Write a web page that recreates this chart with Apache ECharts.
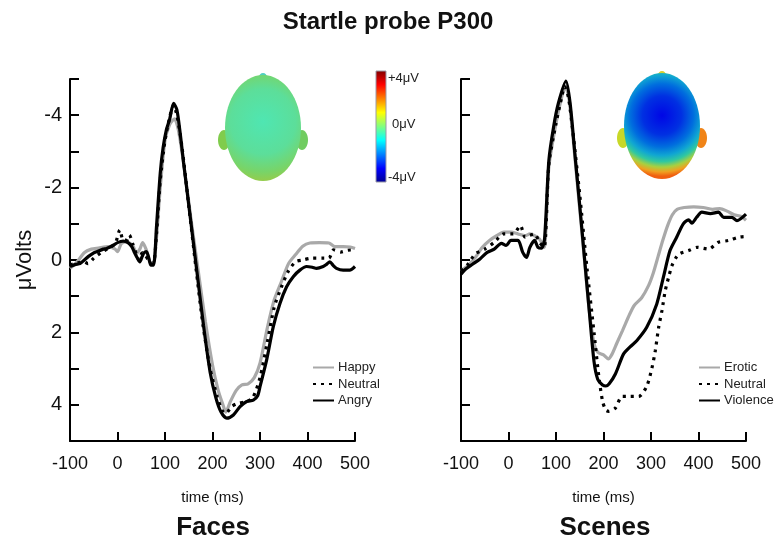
<!DOCTYPE html>
<html>
<head>
<meta charset="utf-8">
<script src="https://cdn.jsdelivr.net/npm/echarts@6/dist/echarts.min.js"></script>
<style>
  html, body { margin: 0; padding: 0; background: #fff; }
  #chart { width: 776px; height: 546px; }
</style>
</head>
<body>
<div id="chart"></div>
<script>
// time (ms), amplitude (µV)
const facesHappy = [[-100,0.23],[-85,0.05],[-70,-0.2],[-55,-0.3],[-40,-0.33],[-20,-0.37],[-5,-0.3],[0,-0.23],[8,-0.45],[20,-0.5],[32,-0.4],[40,-0.18],[47,-0.3],[53,-0.48],[60,-0.3],[68,0.05],[75,0.1],[82,-0.6],[90,-2.0],[100,-3.3],[110,-3.75],[120,-3.9],[128,-3.6],[140,-2.6],[155,-1.1],[170,0.3],[185,1.7],[200,2.9],[212,3.6],[222,4.0],[228,4.2],[238,3.9],[250,3.6],[262,3.45],[275,3.42],[288,3.25],[300,2.85],[315,1.9],[330,1.1],[345,0.6],[360,0.1],[375,-0.15],[390,-0.38],[405,-0.47],[425,-0.48],[445,-0.47],[458,-0.37],[475,-0.37],[490,-0.36],[500,-0.32]]
const facesNeutral = [[-100,0.14],[-85,0.08],[-70,0.05],[-62,0.1],[-50,-0.05],[-35,-0.2],[-20,-0.32],[-5,-0.45],[5,-0.83],[12,-0.55],[20,-0.55],[25,-0.69],[32,-0.45],[40,-0.15],[45,0.0],[52,-0.2],[58,-0.15],[65,0.0],[75,0.1],[82,-0.7],[90,-2.2],[100,-3.3],[110,-3.95],[118,-4.28],[125,-4.0],[135,-3.2],[150,-1.5],[165,0.2],[180,1.8],[195,3.0],[210,3.78],[220,4.15],[228,4.24],[240,4.05],[255,3.95],[270,3.92],[285,3.8],[300,3.25],[315,2.3],[330,1.3],[345,0.75],[360,0.3],[375,0.05],[390,0.0],[410,-0.05],[430,-0.05],[445,-0.05],[455,-0.28],[470,-0.22],[485,-0.27],[500,-0.28]]
const facesAngry = [[-100,0.18],[-88,0.12],[-79,0.1],[-70,0.0],[-61,-0.1],[-50,-0.2],[-44,-0.23],[-30,-0.3],[-23,-0.32],[-10,-0.4],[0,-0.48],[12,-0.52],[22,-0.48],[30,-0.37],[36,-0.2],[42,-0.05],[47,0.05],[52,-0.1],[56,-0.2],[61,-0.23],[66,-0.05],[70,0.14],[76,0.14],[82,-0.9],[90,-2.4],[96,-3.1],[103,-3.6],[110,-3.9],[118,-4.33],[125,-4.15],[132,-3.5],[139,-2.7],[153,-1.2],[167,0.3],[181,1.8],[195,3.1],[207,3.8],[218,4.2],[230,4.37],[244,4.28],[258,4.05],[272,3.91],[286,3.87],[295,3.75],[300,3.5],[314,2.76],[328,1.84],[342,1.2],[356,0.74],[370,0.46],[384,0.28],[398,0.18],[410,0.2],[419,0.23],[433,0.18],[440,0.12],[447,0.05],[454,0.15],[461,0.23],[475,0.28],[489,0.28],[500,0.18]]

const scenesErotic = [[-100,0.3],[-85,0.15],[-70,-0.07],[-55,-0.35],[-40,-0.54],[-25,-0.67],[-10,-0.77],[5,-0.77],[20,-0.72],[35,-0.67],[45,-0.72],[55,-0.67],[65,-0.58],[75,-0.35],[85,-2.57],[100,-3.77],[112,-4.5],[120,-4.79],[128,-4.4],[140,-2.8],[150,-1.4],[160,0.0],[170,1.4],[180,2.3],[188,2.55],[200,2.62],[210,2.73],[218,2.6],[228,2.3],[240,1.95],[255,1.5],[265,1.25],[280,1.05],[295,0.7],[305,0.35],[315,-0.1],[325,-0.55],[335,-0.95],[345,-1.25],[355,-1.4],[370,-1.45],[390,-1.47],[410,-1.45],[430,-1.4],[445,-1.42],[460,-1.35],[475,-1.25],[490,-1.2],[500,-1.1]]
const scenesNeutral = [[-100,0.3],[-85,0.11],[-70,-0.17],[-50,-0.3],[-30,-0.49],[-10,-0.72],[10,-0.72],[25,-0.95],[35,-0.63],[45,-0.68],[55,-0.72],[65,-0.49],[75,-0.35],[85,-2.65],[100,-3.77],[112,-4.5],[118,-4.79],[126,-4.5],[135,-3.6],[150,-1.8],[165,0.2],[180,2.0],[190,3.2],[198,3.9],[205,4.15],[211,4.18],[225,4.09],[239,3.77],[256,3.77],[274,3.77],[291,3.49],[302,2.98],[309,2.51],[316,1.87],[323,1.4],[330,0.85],[337,0.48],[344,0.16],[353,-0.07],[361,-0.18],[379,-0.26],[397,-0.35],[421,-0.3],[442,-0.49],[463,-0.54],[484,-0.63],[500,-0.65]]
const scenesViolence = [[-100,0.39],[-90,0.25],[-75,0.11],[-60,-0.03],[-45,-0.21],[-30,-0.3],[-15,-0.46],[-5,-0.4],[5,-0.54],[20,-0.54],[30,-0.21],[38,-0.07],[45,-0.35],[55,-0.54],[62,-0.35],[70,-0.33],[76,-0.6],[85,-2.75],[95,-3.68],[105,-4.33],[121,-4.94],[130,-4.3],[140,-2.9],[150,-1.5],[160,-0.05],[170,1.4],[180,2.8],[188,3.3],[198,3.45],[205,3.48],[212,3.42],[225,3.15],[242,2.6],[256,2.4],[270,2.23],[291,1.86],[312,1.22],[326,0.48],[340,-0.26],[354,-0.63],[368,-1.0],[379,-1.11],[386,-1.02],[396,-1.18],[407,-1.32],[425,-1.28],[442,-1.32],[453,-1.18],[470,-1.18],[481,-1.09],[500,-1.27]]

const timeTicks = [-100, 0, 100, 200, 300, 400, 500]
const voltTicks = [-4, -2, 0, 2, 4]
const facesNames = ['Happy', 'Neutral', 'Angry']
const scenesNames = ['Erotic', 'Neutral', 'Violence']
const scaleLabels = ['+4μV', '0μV', '-4μV']

const FONT = '"Liberation Sans", Arial, Helvetica, sans-serif'
const GRAY = '#a9a9a9'

let chart = echarts.init(document.getElementById('chart'), null, { renderer: 'canvas' })

function xAxisFor (gridIndex) {
  return {
    type: 'value',
    gridIndex: gridIndex,
    min: -100,
    max: 500,
    interval: 100,
    name: 'time (ms)',
    nameLocation: 'middle',
    nameGap: 49,
    nameTextStyle: { fontSize: 15, color: '#111', fontFamily: FONT },
    axisLine: { onZero: false, lineStyle: { color: '#000', width: 2 } },
    axisTick: { inside: true, length: 9, lineStyle: { color: '#000', width: 2 } },
    axisLabel: {
      fontSize: 18,
      color: '#111',
      fontFamily: FONT,
      margin: 14,
      formatter: v => timeTicks.indexOf(v) >= 0 ? String(v) : ''
    },
    splitLine: { show: false }
  }
}

function yAxisFor (gridIndex, showLabels) {
  return {
    type: 'value',
    gridIndex: gridIndex,
    inverse: true,
    min: -5,
    max: 5,
    interval: 1,
    name: showLabels ? 'μVolts' : '',
    nameLocation: 'middle',
    nameGap: 34,
    nameTextStyle: { fontSize: 22, color: '#111', fontFamily: FONT },
    axisLine: { onZero: false, lineStyle: { color: '#000', width: 2 } },
    axisTick: { inside: true, length: 9, lineStyle: { color: '#000', width: 2 } },
    axisLabel: {
      show: showLabels,
      fontSize: 20,
      color: '#111',
      fontFamily: FONT,
      margin: 8,
      formatter: v => voltTicks.indexOf(v) >= 0 ? String(v) : ''
    },
    splitLine: { show: false }
  }
}

function lineSeries (name, data, idx, color, dotted) {
  return {
    type: 'line',
    name: name,
    xAxisIndex: idx,
    yAxisIndex: idx,
    data: data,
    symbol: 'none',
    smooth: 0.25,
    lineStyle: { color: color, width: 3.2, type: dotted ? [3, 5] : 'solid' },
    itemStyle: { color: color },
    z: dotted ? 3 : (color === GRAY ? 2 : 4)
  }
}

function head (cx, cy, rx, ry, gy, gr, stops, earL, earR, nose) {
  return {
    type: 'group',
    children: [
      { type: 'ellipse', shape: { cx: cx, cy: cy - ry + 2, rx: 4, ry: 4 }, style: { fill: nose } },
      { type: 'ellipse', shape: { cx: cx - rx - 1, cy: cy + 12, rx: 6, ry: 10 }, style: { fill: earL } },
      { type: 'ellipse', shape: { cx: cx + rx + 1, cy: cy + 12, rx: 6, ry: 10 }, style: { fill: earR } },
      {
        type: 'ellipse',
        shape: { cx: cx, cy: cy, rx: rx, ry: ry },
        style: {
          fill: new echarts.graphic.RadialGradient(0.5, gy, gr, stops)
        }
      }
    ]
  }
}

let graphics = [
  { type: 'text', left: 'center', top: 10, style: { text: 'Startle probe P300', fontSize: 24, fontWeight: 'bold', fontFamily: FONT, fill: '#111' } },
  { type: 'text', x: 213, y: 528, style: { text: 'Faces', fontSize: 26, fontWeight: 'bold', fontFamily: FONT, fill: '#111', align: 'center', verticalAlign: 'middle' } },
  { type: 'text', x: 605, y: 528, style: { text: 'Scenes', fontSize: 26, fontWeight: 'bold', fontFamily: FONT, fill: '#111', align: 'center', verticalAlign: 'middle' } },
  head(263, 128, 38, 53, 0.44, 0.78, [
    { offset: 0, color: '#4fe6b2' },
    { offset: 0.55, color: '#5cde9a' },
    { offset: 0.85, color: '#78d468' },
    { offset: 1, color: '#94cc4c' }
  ], '#80cc4c', '#70cc60', '#50d0c0'),
  head(662, 126, 38, 53, 0.4, 0.8, [
    { offset: 0, color: '#0006e6' },
    { offset: 0.32, color: '#0030e2' },
    { offset: 0.52, color: '#006ede' },
    { offset: 0.66, color: '#10a6d2' },
    { offset: 0.76, color: '#30c8a0' },
    { offset: 0.85, color: '#a8d040' },
    { offset: 0.93, color: '#f0a020' },
    { offset: 1, color: '#f06010' }
  ], '#c8d828', '#f08418', '#d8d030'),
  {
    type: 'rect',
    shape: { x: 376, y: 71, width: 10, height: 111 },
    style: {
      fill: new echarts.graphic.LinearGradient(0, 0, 0, 1, [
        { offset: 0, color: '#800000' },
        { offset: 0.125, color: '#ff0000' },
        { offset: 0.375, color: '#ffff00' },
        { offset: 0.5, color: '#80ff80' },
        { offset: 0.625, color: '#00ffff' },
        { offset: 0.875, color: '#0000ff' },
        { offset: 1, color: '#00008f' }
      ]),
      stroke: '#9a9aa8',
      lineWidth: 1
    }
  }
]
const scaleY = [78, 124, 177]
const scaleX = [388, 392, 388]
scaleLabels.forEach((t, i) => {
  graphics.push({ type: 'text', x: scaleX[i], y: scaleY[i], style: { text: t, fontSize: 13, fontFamily: FONT, fill: '#222', verticalAlign: 'middle' } })
})

let legendBase = {
  orient: 'vertical',
  itemWidth: 21,
  itemHeight: 12,
  itemGap: 3.5,
  top: 356,
  itemStyle: { color: 'rgba(0,0,0,0)', borderColor: 'rgba(0,0,0,0)', borderWidth: 0, opacity: 0 },
  textStyle: { fontSize: 13, color: '#222', fontFamily: FONT, padding: [0, 0, 0, -1] },
  selectedMode: false
}

let option = {
  backgroundColor: '#fff',
  animation: false,
  grid: [
    { left: 70, top: 79, width: 285, height: 362, outerBoundsMode: 'none' },
    { left: 461, top: 79, width: 285, height: 362, outerBoundsMode: 'none' }
  ],
  xAxis: [xAxisFor(0), xAxisFor(1)],
  yAxis: [yAxisFor(0, true), yAxisFor(1, false)],
  legend: [
    Object.assign({}, legendBase, { left: 307, data: facesNames }),
    Object.assign({}, legendBase, { left: 693, data: scenesNames })
  ],
  graphic: graphics,
  series: [
    lineSeries('Happy', facesHappy, 0, GRAY, false),
    lineSeries('Neutral', facesNeutral, 0, '#000', true),
    lineSeries('Angry', facesAngry, 0, '#000', false),
    lineSeries('Erotic', scenesErotic, 1, GRAY, false),
    lineSeries('Neutral', scenesNeutral, 1, '#000', true),
    lineSeries('Violence', scenesViolence, 1, '#000', false)
  ]
}

chart.setOption(option)
</script>
</body>
</html>
